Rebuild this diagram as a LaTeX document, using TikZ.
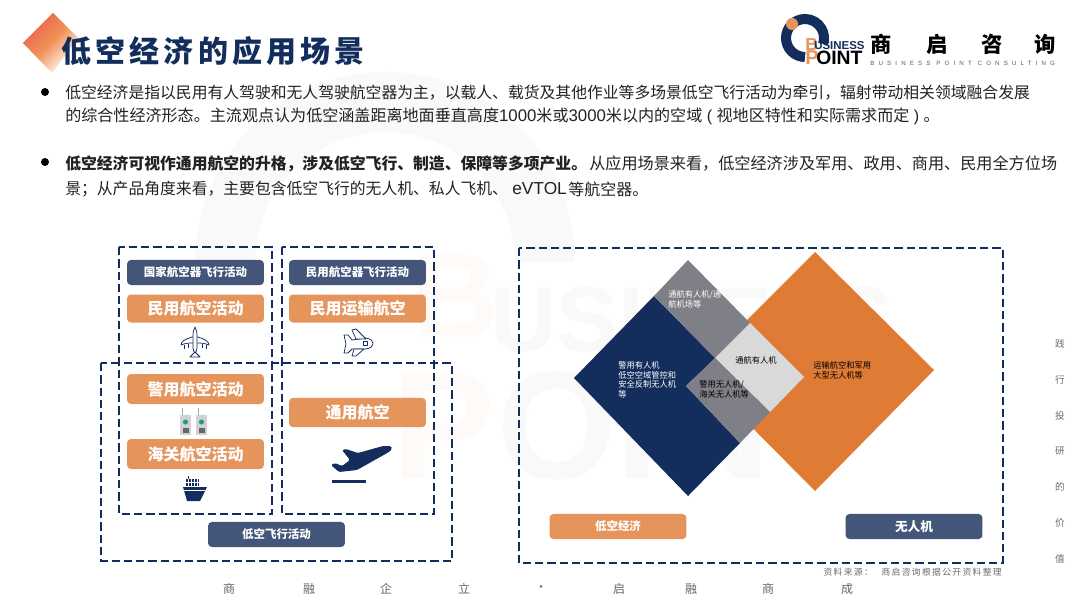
\documentclass[tikz,border=0pt]{standalone}
\usepackage{fontspec}
\setmainfont{Noto Sans CJK SC}
\newfontfamily\latinsans{Liberation Sans}
\newfontfamily\titlefont[LetterSpace=14]{Noto Sans CJK SC}
\newfontfamily\srcfont[LetterSpace=15]{Noto Sans CJK SC}
\usetikzlibrary{shapes.geometric}
\definecolor{navy}{HTML}{132E5C}
\definecolor{slate}{HTML}{44557A}
\definecolor{boxor}{HTML}{E5955B}
\definecolor{diaor}{HTML}{E07B36}
\definecolor{midgrey}{HTML}{7F8087}
\definecolor{lightgrey}{HTML}{D9D9D9}
\definecolor{ink}{HTML}{222222}
\definecolor{wm}{HTML}{F9F9FA}
\definecolor{wmor}{HTML}{FDFAF7}
\definecolor{teal1}{HTML}{1E9C8F}
\definecolor{markred}{HTML}{E8604A}
\definecolor{markor}{HTML}{F2925A}
\tikzset{
  dashbox/.style={draw=navy,line width=2pt,dash pattern=on 6.2pt off 3pt},
  slatebox/.style={fill=slate,rounded corners=3pt,text=white,font=\fontsize{8.6}{10}\selectfont\bfseries,minimum width=102.7pt,minimum height=18.8pt,inner sep=0pt},
  orbox/.style={fill=boxor,rounded corners=3pt,text=white,font=\fontsize{12}{14}\selectfont\bfseries,minimum width=102.7pt,minimum height=21pt,inner sep=0pt},
  para/.style={anchor=west,inner sep=0pt,text=ink,font=\fontsize{11.86}{14}\selectfont},
  dtext/.style={anchor=north west,inner sep=0pt,align=left,font=\fontsize{6.2}{7.4}\selectfont},
  sidechar/.style={text=gray!85!black,inner sep=0pt,font=\fontsize{7.2}{8}\selectfont},
  footchar/.style={text=gray!80!black,inner sep=0pt,font=\fontsize{9}{10}\selectfont},
  iconline/.style={draw=navy,line width=0.55pt,fill=white,line join=round},
  iconfill/.style={fill=navy,draw=none},
}
\begin{document}
\begin{tikzpicture}[x=0.75pt,y=-0.75pt]
\useasboundingbox (0,0) rectangle (1080,602);
\fill[white] (0,0) rectangle (1080,602);
% watermark
\draw[wm,line width=45pt] (225,262) arc (180:360:160);
\node[text=wmor,inner sep=0pt,anchor=west,font=\latinsans\bfseries\fontsize{90}{90}\selectfont] (wmA) at (412,296) {B};
\node[text=wm,inner sep=0pt,anchor=west,font=\latinsans\bfseries\fontsize{69}{70}\selectfont] (wmB) at (490,320) {USINESS};
\node[text=wmor,inner sep=0pt,anchor=west,font=\latinsans\bfseries\fontsize{115}{115}\selectfont] (wmC) at (392,426) {P};
\node[text=wm,inner sep=0pt,anchor=west,font=\latinsans\bfseries\fontsize{115}{115}\selectfont] (wmD) at (497,426) {OINT};
% title mark
\shade[top color=markred,bottom color=white,middle color=markor,shading angle=45] (53,13) -- (23,43) -- (52,73) -- (78,38) -- cycle;
\node[anchor=west,inner sep=0pt,text=navy,font=\titlefont\bfseries\fontsize{22.5}{26}\selectfont] (title) at (61,51) {低空经济的应用场景};
% logo
\draw[navy,line width=7.5pt] (805,57) arc (90:378:19);
\fill[boxor] (792,24) circle (6);
\node[anchor=west,inner sep=0pt,font=\latinsans\bfseries\fontsize{13}{13}\selectfont,text=boxor] (logoB) at (805,45) {B};
\node[anchor=west,inner sep=0pt,font=\latinsans\bfseries\fontsize{8.6}{9}\selectfont,text=navy] (logoU) at (814,46) {USINESS};
\node[anchor=west,inner sep=0pt,font=\latinsans\bfseries\fontsize{15}{15}\selectfont,text=boxor] (logoP) at (805,58) {P};
\node[anchor=west,inner sep=0pt,font=\latinsans\bfseries\fontsize{14.5}{15}\selectfont,text=black] (logoO) at (816,58) {OINT};
\foreach \c/\x in {商/881,启/937,咨/992,询/1045}{
  \node[inner sep=0pt,font=\fontsize{16}{18}\selectfont\bfseries,text=black] (brand\x) at (\x,44) {\c};
}
\node[anchor=west,inner sep=0pt,font=\latinsans\fontsize{4.6}{5}\selectfont,text=gray!70!black] (logoS) at (870,63) {\addfontfeature{LetterSpace=68}BUSINESS POINT CONSULTING};
% text
\fill[black] (45,92) circle (4);
\fill[black] (45,162) circle (4);
\node[para] (l1) at (65,93) {低空经济是指以民用有人驾驶和无人驾驶航空器为主，以载人、载货及其他作业等多场景低空飞行活动为牵引，辐射带动相关领域融合发展};
\node[para,font=\fontsize{12.05}{14}\selectfont] (l2) at (65,116) {的综合性经济形态。主流观点认为低空涵盖距离地面垂直高度{\latinsans\fontsize{12.6}{14}\selectfont 1000}米或{\latinsans\fontsize{12.6}{14}\selectfont 3000}米以内的空域{\latinsans\ ( }视地区特性和实际需求而定{\latinsans\ ) }。};
\node[para] (l3a) at (65,164) {\textbf{低空经济可视作通用航空的升格，涉及低空飞行、制造、保障等多项产业。}};
\node[para,font=\fontsize{12.1}{14}\selectfont] (l3b) at (589,164) {从应用场景来看，低空经济涉及军用、政用、商用、民用全方位场};
\node[para] (l4a) at (65,189) {景；从产品角度来看，主要包含低空飞行的无人机、私人飞机、};
\node[para,font=\latinsans\fontsize{13}{14}\selectfont] (l4b) at (512,189) {eVTOL};
\node[para,font=\fontsize{12}{14}\selectfont] (l4c) at (568,189) {等航空器。};
% dashed frames
\draw[dashbox] (119,247) rectangle (272,514);
\draw[dashbox] (282,247) rectangle (434,514);
\draw[dashbox] (101,363) rectangle (452,561);
\draw[dashbox] (519,248) rectangle (1003,563);
% left boxes
\node[slatebox] (b1) at (195.5,272.5) {国家航空器飞行活动};
\node[orbox] (b2) at (195.5,308.5) {民用航空活动};
\node[orbox,minimum height=22.5pt] (b3) at (195.5,389) {警用航空活动};
\node[orbox,minimum height=22.5pt] (b4) at (195.5,454) {海关航空活动};
\node[slatebox] (b5) at (357.5,272.5) {民用航空器飞行活动};
\node[orbox] (b6) at (357.5,308.5) {民用运输航空};
\node[orbox,minimum height=22pt] (b7) at (357.5,412.5) {通用航空};
\node[slatebox] (b8) at (276.5,534.5) {低空飞行活动};
% top-view plane icon
\draw[iconline] (181,345) .. controls (181,341) and (186,339) .. (192,337) -- (198,337) .. controls (204,339) and (209,341) .. (209,345) .. controls (204,343) and (200,343) .. (198,343) -- (192,343) .. controls (190,343) and (186,343) .. (181,345) -- cycle;
\draw[iconline] (195,327) .. controls (193,330) and (193,333) .. (193,336) -- (193,348) -- (194,352) -- (196,352) -- (197,348) -- (197,336) .. controls (197,333) and (197,330) .. (195,327) -- cycle;
\draw[iconline] (190,357) -- (195,352) -- (200,357) -- cycle;
\draw[navy,line width=0.4pt] (184,345) -- (184,349) (188,344) -- (188,348) (202,344) -- (202,348) (206,345) -- (206,349);
% side plane icon
\draw[iconline] (344,335) -- (348,335) -- (352,340) -- (366,338) .. controls (371,339) and (373,341) .. (373,343) .. controls (373,346) and (370,349) .. (365,349) -- (352,349) -- (348,353) -- (344,353) -- (346,344) -- cycle;
\draw[iconline] (352,330) -- (356,329) -- (366,339) -- (356,339) -- cycle;
\draw[iconline] (352,356) -- (356,356) -- (364,349) -- (354,349) -- cycle;
\draw[iconline] (363,341) rectangle (367,345);
% walkie-talkies
\foreach \dx in {0,16}{
  \fill[gray!70] (181.5+\dx,408) rectangle (183+\dx,416);
  \fill[gray!35!white] (180+\dx,415) rectangle (191+\dx,435);
  \fill[teal1] (185.5+\dx,422) circle (2.6);
  \fill[gray!80!black] (182.5+\dx,428) rectangle (189+\dx,433);
}
% ship icon
\fill[navy] (186,479) rectangle (199,486);
\draw[white,line width=0.3pt] (188,478) -- (188,486) (191,478) -- (191,486) (194,478) -- (194,486) (197,478) -- (197,486) (186,482) -- (199,482);
\fill[navy] (188,476) rectangle (189,479);
\path[iconfill] (183,487) -- (207,487) -- (200,501) -- (187,501) -- cycle;
\draw[white,line width=0.5pt] (184,490) -- (205,490);
% take-off icon
\path[iconfill,rounded corners=1pt] (342,450) -- (346,449) -- (358,453) -- (383,446) -- (391,446) -- (392,449) -- (389,452) -- (357,470) -- (339,472) -- (331,465) -- (335,463) -- (342,466) -- (350,460) -- cycle;
\fill[navy] (332,479.5) rectangle (366,483);
% diamonds
\fill[diaor] (815,252) -- (934,370) -- (815,491) -- (696,371) -- cycle;
\fill[navy] (574,378) -- (654,296) -- (715,358) -- (686,386) -- (740,443) -- (688,496) -- cycle;
\fill[midgrey] (688,260) -- (750,323) -- (715,358) -- (654,296) -- cycle;
\fill[lightgrey] (750,323) -- (804,377) -- (770,412) -- (715,358) -- cycle;
\fill[midgrey] (715,358) -- (770,412) -- (740,443) -- (686,386) -- cycle;
\node[dtext,text=white] (d1) at (668,290) {通航有人机/通\\航机场等};
\node[dtext,text=white] (d2) at (618,361) {警用有人机\\低空空域管控和\\安全反制无人机\\等};
\node[dtext,text=black] (d3) at (735,356) {通航有人机};
\node[dtext,text=black] (d4) at (699,380) {警用无人机/\\海关无人机等};
\node[dtext,text=black] (d5) at (813,361) {运输航空和军用\\大型无人机等};
\node[orbox,minimum height=18.8pt,font=\fontsize{8.6}{10}\selectfont\bfseries] (k1) at (618,526.5) {低空经济};
\node[slatebox,font=\fontsize{9.5}{10}\selectfont\bfseries] (k2) at (914,526.5) {无人机};
% side and foot texts
\foreach \c/\y in {践/344,行/380,投/416,研/451,的/487,价/523,值/559}{
  \node[sidechar] (side\y) at (1060,\y) {\c};
}
\foreach \c/\x in {商/229,融/309,企/386,立/464,•/541,启/619,融/691,商/768,成/847}{
  \node[footchar] (foot\x) at (\x,589) {\c};
}
\node[anchor=east,inner sep=0pt,text=gray!85!black,font=\srcfont\fontsize{6.6}{8}\selectfont] (src) at (1002,572) {资料来源：\quad 商启咨询根据公开资料整理};
\end{tikzpicture}
\end{document}
